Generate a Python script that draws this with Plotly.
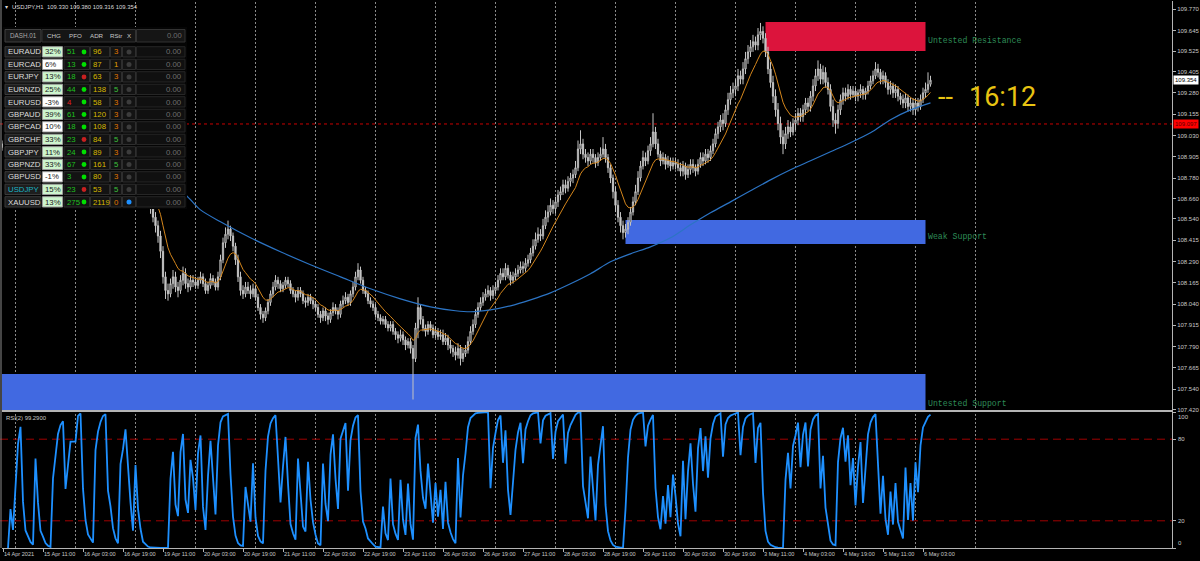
import numpy as np
import pandas as pd
import plotly.graph_objects as go

W, H = 1200, 561

# ---------------- DATA ----------------
chart_title = "USDJPY,H1  109.330 109.380 109.316 109.354"
trading_days = ["2021-04-14", "2021-04-15", "2021-04-16", "2021-04-19", "2021-04-20",
                "2021-04-21", "2021-04-22", "2021-04-23", "2021-04-26", "2021-04-27",
                "2021-04-28", "2021-04-29", "2021-04-30", "2021-05-03", "2021-05-04",
                "2021-05-05", "2021-05-06"]
first_bar_hour = 19
last_bar_hour = 6

open_first = 108.96
close_px = [
    108.98, 108.95, 108.93, 108.94, 108.92,
    108.93, 108.95, 108.97, 108.94, 108.90, 108.88, 108.86, 108.84, 108.88, 108.85, 108.80, 108.78,
    108.74, 108.70, 108.66, 108.70, 108.72, 108.75, 108.77, 108.78, 108.76, 108.77, 108.78, 108.78,
    108.78, 108.80, 108.82, 108.80, 108.78, 108.76, 108.75, 108.74, 108.77, 108.79, 108.81, 108.84,
    108.86, 108.83, 108.82, 108.80, 108.78, 108.76, 108.79, 108.80, 108.82, 108.81, 108.80, 108.78,
    108.80, 108.78, 108.76, 108.72, 108.70, 108.66, 108.60, 108.55, 108.50, 108.44, 108.35, 108.20,
    108.12, 108.10, 108.16, 108.20, 108.14, 108.12, 108.18, 108.22, 108.16, 108.14, 108.18, 108.17,
    108.15, 108.18, 108.20, 108.16, 108.12, 108.15, 108.19, 108.17, 108.14, 108.20, 108.30, 108.40,
    108.45, 108.48, 108.44, 108.38, 108.30, 108.20, 108.12, 108.10, 108.14, 108.12, 108.10, 108.13,
    108.08, 108.02, 107.98, 107.96, 108.00, 108.05, 108.10, 108.14, 108.18, 108.16, 108.13, 108.15,
    108.18, 108.16, 108.12, 108.10, 108.08, 108.12, 108.10, 108.06, 108.05, 108.08, 108.06, 108.04,
    108.02, 107.98, 107.96, 108.00, 107.97, 107.95, 107.99, 108.02, 108.00, 107.98, 108.04, 108.06,
    108.08, 108.05, 108.10, 108.14, 108.20, 108.24, 108.18, 108.12, 108.10, 108.06, 108.04, 108.02,
    107.98, 107.96, 107.94, 107.95, 107.92, 107.90, 107.92, 107.88, 107.86, 107.84, 107.86, 107.83,
    107.80, 107.82, 107.78, 107.72, 107.90, 108.02, 107.95, 107.90, 107.88, 107.92, 107.90, 107.86,
    107.88, 107.85, 107.86, 107.82, 107.84, 107.80, 107.78, 107.76, 107.74, 107.78, 107.72, 107.75,
    107.77, 107.82, 107.88, 107.92, 107.98, 108.02, 108.05, 108.08, 108.10, 108.12, 108.09, 108.12,
    108.14, 108.18, 108.22, 108.20, 108.25, 108.21, 108.18, 108.20, 108.22, 108.24, 108.26, 108.25,
    108.28, 108.30, 108.34, 108.38, 108.42, 108.45, 108.44, 108.50, 108.55, 108.58, 108.62, 108.60,
    108.64, 108.68, 108.70, 108.74, 108.72, 108.76, 108.78, 108.80, 108.84, 108.95, 108.98, 108.92,
    108.90, 108.88, 108.92, 108.90, 108.87, 108.90, 108.92, 108.95, 108.90, 108.84, 108.78, 108.70,
    108.62, 108.55, 108.50, 108.46, 108.48, 108.52, 108.58, 108.64, 108.70, 108.78, 108.85, 108.90,
    108.88, 108.94, 108.98, 109.05, 108.98, 108.92, 108.88, 108.90, 108.86, 108.88, 108.85, 108.87,
    108.86, 108.84, 108.82, 108.85, 108.80, 108.83, 108.86, 108.84, 108.82, 108.86, 108.90, 108.88,
    108.92, 108.90, 108.94, 108.98, 109.04, 109.08, 109.12, 109.10, 109.18, 109.24, 109.28, 109.30,
    109.32, 109.38, 109.36, 109.42, 109.48, 109.52, 109.55, 109.58, 109.56, 109.62, 109.64, 109.60,
    109.52, 109.42, 109.34, 109.26, 109.18, 109.10, 109.02, 108.98, 109.04, 109.08, 109.05, 109.10,
    109.12, 109.16, 109.14, 109.18, 109.22, 109.20, 109.26, 109.32, 109.38, 109.42, 109.36, 109.40,
    109.34, 109.30, 109.20, 109.12, 109.10, 109.18, 109.24, 109.28, 109.26, 109.30, 109.27, 109.29,
    109.26, 109.28, 109.30, 109.27, 109.29, 109.32, 109.35, 109.38, 109.42, 109.40, 109.36, 109.38,
    109.34, 109.30, 109.32, 109.28, 109.30, 109.26, 109.24, 109.22, 109.25, 109.20, 109.22, 109.18,
    109.22, 109.20, 109.24, 109.28, 109.30, 109.33, 109.354,
]
high_px = [
    109.00, 108.99, 108.96, 108.96, 108.95,
    108.95, 108.97, 108.99, 108.99, 108.96, 108.93, 108.90, 108.88, 108.91, 108.90, 108.87, 108.82,
    108.80, 108.76, 108.72, 108.73, 108.75, 108.78, 108.80, 108.81, 108.80, 108.79, 108.80, 108.80,
    108.80, 108.82, 108.84, 108.84, 108.82, 108.80, 108.78, 108.77, 108.79, 108.82, 108.84, 108.87,
    108.89, 108.88, 108.85, 108.84, 108.82, 108.80, 108.81, 108.82, 108.84, 108.84, 108.83, 108.82,
    108.82, 108.83, 108.80, 108.78, 108.75, 108.72, 108.68, 108.63, 108.58, 108.53, 108.47, 108.38,
    108.23, 108.16, 108.19, 108.24, 108.23, 108.17, 108.21, 108.26, 108.25, 108.19, 108.21, 108.21,
    108.20, 108.20, 108.23, 108.22, 108.19, 108.17, 108.22, 108.21, 108.19, 108.23, 108.33, 108.43,
    108.49, 108.53, 108.50, 108.46, 108.40, 108.33, 108.23, 108.15, 108.17, 108.17, 108.15, 108.16,
    108.15, 108.10, 108.04, 108.00, 108.02, 108.07, 108.12, 108.17, 108.21, 108.20, 108.18, 108.17,
    108.20, 108.20, 108.18, 108.14, 108.12, 108.14, 108.14, 108.12, 108.08, 108.10, 108.10, 108.08,
    108.06, 108.04, 108.00, 108.02, 108.02, 107.99, 108.01, 108.05, 108.04, 108.02, 108.06, 108.09,
    108.11, 108.10, 108.12, 108.17, 108.23, 108.28, 108.26, 108.20, 108.14, 108.12, 108.08, 108.06,
    108.04, 108.00, 107.98, 107.97, 107.97, 107.94, 107.94, 107.94, 107.90, 107.88, 107.89, 107.88,
    107.85, 107.84, 107.84, 107.80, 107.93, 108.08, 108.04, 107.97, 107.92, 107.94, 107.94, 107.92,
    107.91, 107.90, 107.89, 107.89, 107.87, 107.86, 107.83, 107.80, 107.79, 107.81, 107.80, 107.78,
    107.80, 107.85, 107.91, 107.95, 108.01, 108.05, 108.08, 108.11, 108.13, 108.15, 108.14, 108.15,
    108.17, 108.21, 108.25, 108.25, 108.28, 108.27, 108.23, 108.23, 108.25, 108.27, 108.29, 108.29,
    108.31, 108.33, 108.37, 108.42, 108.46, 108.49, 108.48, 108.54, 108.59, 108.62, 108.66, 108.65,
    108.67, 108.71, 108.73, 108.77, 108.77, 108.79, 108.81, 108.83, 108.88, 109.00, 109.06, 109.01,
    108.95, 108.93, 108.95, 108.95, 108.92, 108.93, 108.96, 109.02, 108.98, 108.92, 108.86, 108.80,
    108.73, 108.65, 108.58, 108.53, 108.51, 108.55, 108.61, 108.67, 108.74, 108.82, 108.88, 108.94,
    108.93, 108.97, 109.02, 109.16, 109.08, 109.01, 108.94, 108.93, 108.92, 108.91, 108.90, 108.90,
    108.90, 108.89, 108.87, 108.88, 108.87, 108.86, 108.89, 108.89, 108.86, 108.89, 108.93, 108.93,
    108.95, 108.95, 108.97, 109.01, 109.07, 109.11, 109.15, 109.16, 109.21, 109.28, 109.32, 109.34,
    109.36, 109.42, 109.41, 109.46, 109.52, 109.56, 109.59, 109.62, 109.61, 109.66, 109.69, 109.67,
    109.63, 109.55, 109.46, 109.38, 109.30, 109.22, 109.14, 109.06, 109.08, 109.12, 109.11, 109.13,
    109.16, 109.19, 109.19, 109.21, 109.25, 109.25, 109.29, 109.36, 109.42, 109.47, 109.45, 109.44,
    109.43, 109.37, 109.33, 109.24, 109.16, 109.21, 109.27, 109.31, 109.31, 109.33, 109.32, 109.32,
    109.31, 109.30, 109.33, 109.32, 109.31, 109.35, 109.38, 109.41, 109.46, 109.45, 109.42, 109.41,
    109.40, 109.36, 109.35, 109.34, 109.33, 109.32, 109.28, 109.27, 109.28, 109.27, 109.25, 109.25,
    109.25, 109.25, 109.27, 109.31, 109.34, 109.40, 109.38,
]
low_px = [
    108.94, 108.93, 108.91, 108.91, 108.90,
    108.90, 108.91, 108.93, 108.92, 108.88, 108.86, 108.84, 108.82, 108.82, 108.83, 108.78, 108.76,
    108.72, 108.68, 108.63, 108.64, 108.68, 108.70, 108.73, 108.75, 108.74, 108.74, 108.75, 108.76,
    108.76, 108.77, 108.79, 108.78, 108.76, 108.74, 108.73, 108.71, 108.72, 108.75, 108.77, 108.79,
    108.82, 108.81, 108.80, 108.78, 108.76, 108.74, 108.74, 108.77, 108.78, 108.79, 108.78, 108.76,
    108.76, 108.76, 108.74, 108.70, 108.68, 108.63, 108.57, 108.52, 108.46, 108.40, 108.31, 108.16,
    108.07, 108.06, 108.08, 108.13, 108.11, 108.08, 108.10, 108.15, 108.13, 108.11, 108.12, 108.14,
    108.13, 108.13, 108.16, 108.14, 108.10, 108.10, 108.13, 108.15, 108.12, 108.12, 108.18, 108.28,
    108.37, 108.42, 108.41, 108.35, 108.27, 108.17, 108.09, 108.07, 108.08, 108.10, 108.07, 108.08,
    108.06, 108.00, 107.95, 107.93, 107.94, 107.98, 108.03, 108.08, 108.12, 108.13, 108.11, 108.11,
    108.13, 108.14, 108.10, 108.08, 108.05, 108.06, 108.08, 108.04, 108.02, 108.03, 108.04, 108.01,
    108.00, 107.96, 107.93, 107.94, 107.94, 107.92, 107.93, 107.97, 107.98, 107.95, 107.96, 108.02,
    108.04, 108.03, 108.03, 108.08, 108.12, 108.18, 108.16, 108.10, 108.08, 108.04, 108.02, 108.00,
    107.96, 107.94, 107.92, 107.92, 107.90, 107.88, 107.88, 107.86, 107.83, 107.81, 107.82, 107.80,
    107.77, 107.78, 107.75, 107.48, 107.70, 107.84, 107.92, 107.88, 107.85, 107.86, 107.88, 107.84,
    107.84, 107.83, 107.83, 107.80, 107.80, 107.77, 107.75, 107.73, 107.71, 107.72, 107.68, 107.70,
    107.73, 107.75, 107.80, 107.86, 107.90, 107.96, 108.00, 108.03, 108.06, 108.08, 108.06, 108.07,
    108.10, 108.12, 108.16, 108.18, 108.18, 108.19, 108.15, 108.16, 108.18, 108.20, 108.22, 108.22,
    108.23, 108.26, 108.28, 108.32, 108.36, 108.40, 108.41, 108.42, 108.48, 108.52, 108.56, 108.57,
    108.57, 108.61, 108.65, 108.68, 108.69, 108.70, 108.73, 108.75, 108.78, 108.82, 108.92, 108.89,
    108.87, 108.85, 108.86, 108.87, 108.84, 108.85, 108.88, 108.90, 108.87, 108.81, 108.75, 108.66,
    108.58, 108.52, 108.46, 108.42, 108.43, 108.45, 108.50, 108.56, 108.62, 108.68, 108.76, 108.83,
    108.85, 108.86, 108.91, 108.96, 108.95, 108.90, 108.85, 108.86, 108.83, 108.84, 108.82, 108.83,
    108.83, 108.82, 108.79, 108.79, 108.77, 108.78, 108.80, 108.81, 108.79, 108.80, 108.84, 108.85,
    108.86, 108.87, 108.88, 108.92, 108.96, 109.01, 109.05, 109.06, 109.08, 109.15, 109.21, 109.25,
    109.26, 109.29, 109.33, 109.33, 109.39, 109.45, 109.49, 109.52, 109.53, 109.53, 109.59, 109.57,
    109.49, 109.39, 109.31, 109.22, 109.14, 109.06, 108.98, 108.92, 108.95, 109.01, 109.02, 109.03,
    109.06, 109.09, 109.11, 109.11, 109.15, 109.17, 109.17, 109.23, 109.29, 109.35, 109.33, 109.33,
    109.31, 109.27, 109.17, 109.08, 109.04, 109.07, 109.15, 109.21, 109.23, 109.24, 109.24, 109.25,
    109.23, 109.23, 109.25, 109.24, 109.24, 109.27, 109.30, 109.33, 109.36, 109.37, 109.33, 109.33,
    109.31, 109.27, 109.27, 109.25, 109.25, 109.23, 109.21, 109.19, 109.19, 109.17, 109.17, 109.15,
    109.15, 109.17, 109.18, 109.22, 109.25, 109.28, 109.316,
]

fast_ma_period = 10
# slow (blue) moving average: bar index -> price
slow_ma_bar = [0, 30, 55, 73, 79, 87, 99, 111, 123, 135, 147, 159, 171, 181, 187, 195, 203, 211,
               219, 227, 235, 243, 251, 259, 267, 275, 283, 291, 299, 307, 315, 323, 331, 339,
               347, 355, 363, 371]
slow_ma_px = [109.30, 109.02, 108.84, 108.68, 108.593, 108.523, 108.429, 108.347, 108.271, 108.200,
              108.130, 108.071, 108.024, 108.001, 107.995, 108.006, 108.030, 108.065, 108.106,
              108.159, 108.218, 108.288, 108.335, 108.376, 108.429, 108.505, 108.576, 108.640,
              108.705, 108.769, 108.828, 108.881, 108.934, 108.987, 109.045, 109.122, 109.180,
              109.221]

rsi_period = 2
rsi_title = "RSI(2) 99.2900"
rsi_levels = [20, 80]

price_ticks = [109.770, 109.645, 109.525, 109.405, 109.280, 109.155, 109.030, 108.905, 108.780,
               108.660, 108.540, 108.415, 108.290, 108.165, 108.040, 107.915, 107.790, 107.665,
               107.540, 107.420]
bid_price = 109.354
red_line_price = 109.097

zone_names = ["Untested Resistance", "Weak Support", "Untested Support"]
zone_bar0 = [305, 249, -3]
zone_bar1 = [369, 369, 369]
zone_lo = [109.525, 108.392, 107.30]
zone_hi = [109.695, 108.533, 107.630]
zone_label_px = [109.584, 108.435, 107.457]
zone_colors = ["#dc143c", "#4169e1", "#4169e1"]

timer_text = "16:12"

dash_symbols = ["EURAUD", "EURCAD", "EURJPY", "EURNZD", "EURUSD", "GBPAUD", "GBPCAD",
                "GBPCHF", "GBPJPY", "GBPNZD", "GBPUSD", "USDJPY", "XAUUSD"]
dash_chg = [32, 6, 13, 25, -3, 39, 10, 33, 11, 33, -1, 15, 13]
dash_pfo = [51, 13, 18, 44, 4, 61, 18, 23, 24, 67, 3, 23, 275]
dash_pfo_up = [True, True, True, True, False, True, True, True, True, True, True, True, True]
dash_dot_up = [True, True, False, True, True, True, True, False, True, True, True, False, True]
dash_adr = [96, 87, 63, 138, 58, 120, 108, 84, 89, 161, 80, 53, 2119]
dash_rstr = [3, 1, 3, 5, 3, 3, 3, 5, 3, 5, 3, 5, 0]
dash_last = ["0.00"] * 13
dash_signal = [False] * 12 + [True]

# ---------------- DERIVED ----------------
times = []
for k, d in enumerate(trading_days):
    h0 = first_bar_hour if k == 0 else 0
    h1 = last_bar_hour if k == len(trading_days) - 1 else 23
    for hh in range(h0, h1 + 1):
        times.append(pd.Timestamp(d) + pd.Timedelta(hours=hh))
n = len(times)
idx = np.arange(n)
open_px = [open_first] + close_px[:-1]
high_adj = [max(h, o, c) for h, o, c in zip(high_px, open_px, close_px)]
low_adj = [min(l, o, c) for l, o, c in zip(low_px, open_px, close_px)]

# fast EMA
a = 2.0 / (fast_ma_period + 1)
ema = []
e = close_px[0]
for c in close_px:
    e = e + a * (c - e)
    ema.append(e)

# Wilder RSI
c = np.array(close_px)
d = np.diff(c)
up = np.where(d > 0, d, 0.0)
dn = np.where(d < 0, -d, 0.0)
rsi = np.full(n, np.nan)
au, ad = up[:rsi_period].mean(), dn[:rsi_period].mean()
rsi[rsi_period] = 100.0 if ad == 0 else 100 - 100 / (1 + au / ad)
for k in range(rsi_period, len(d)):
    au = (au * (rsi_period - 1) + up[k]) / rsi_period
    ad = (ad * (rsi_period - 1) + dn[k]) / rsi_period
    rsi[k + 1] = 100.0 if ad == 0 else 100 - 100 / (1 + au / ad)

day_bounds = [i for i, t in enumerate(times) if t.hour == 0]
day_bounds.append(day_bounds[-1] + 24)   # the next (future) day separator
x_lo, x_hi = -0.4, 467.6
label_idx = list(range(0, n, 16))
label_txt = [times[0].strftime("%d %b %Y").lstrip("0")] + \
            [f"{times[i].day} {times[i].strftime('%b %H:%M')}" for i in label_idx[1:]]

# ---------------- FIGURE ----------------
FONT = "Liberation Sans, Arial, sans-serif"
AX = "#b4b4b4"
TXT = "#c8c8c8"

# pixel geometry
PX_L, PX_R = 2, 1172
PRICE_TOP, PRICE_BOT = 1, 410
RSI_TOP, RSI_BOT = 412, 548
px_per_unit = 170.4
p_top = 109.77 + (9.3 - PRICE_TOP) / px_per_unit
p_bot = 109.77 - (PRICE_BOT - 9.3) / px_per_unit

fig = go.Figure()
fig.add_trace(go.Candlestick(
    x=idx, open=open_px, high=high_adj, low=low_adj, close=close_px,
    increasing=dict(line=dict(color="#c4c4c4", width=1), fillcolor="#000000"),
    decreasing=dict(line=dict(color="#c4c4c4", width=1), fillcolor="#c4c4c4"),
    whiskerwidth=0, xaxis="x", yaxis="y", hoverinfo="skip", showlegend=False))
fig.add_trace(go.Scatter(x=idx, y=ema, mode="lines", line=dict(color="#d4861c", width=1),
                         xaxis="x", yaxis="y", hoverinfo="skip", showlegend=False))
fig.add_trace(go.Scatter(x=slow_ma_bar, y=slow_ma_px, mode="lines",
                         line=dict(color="#2c74c4", width=1.2, shape="spline", smoothing=0.8),
                         xaxis="x", yaxis="y", hoverinfo="skip", showlegend=False))
fig.add_trace(go.Scatter(x=idx, y=rsi, mode="lines", line=dict(color="#1e90ff", width=1.8),
                         xaxis="x2", yaxis="y2", hoverinfo="skip", showlegend=False))

shapes = []
# zones (background)
for x0, x1, lo, hi, col in zip(zone_bar0, zone_bar1, zone_lo, zone_hi, zone_colors):
    shapes.append(dict(type="rect", xref="x", yref="y", x0=x0, x1=x1, y0=max(lo, p_bot), y1=hi,
                       fillcolor=col, line=dict(width=0), layer="below"))
# vertical dotted day grid
for bnd in day_bounds:
    shapes.append(dict(type="line", xref="x", yref="paper", x0=bnd, x1=bnd,
                       y0=1 - RSI_BOT / H, y1=1 - PRICE_TOP / H,
                       line=dict(color="#8a8a8a", width=1, dash="2px,2px"), layer="below"))
# red dashed level
shapes.append(dict(type="line", xref="paper", yref="y", x0=0, x1=PX_R / W,
                   y0=red_line_price, y1=red_line_price,
                   line=dict(color="#c80000", width=1, dash="3px,3px"), layer="below"))
# RSI levels
for lv in rsi_levels:
    shapes.append(dict(type="line", xref="paper", yref="y2", x0=0, x1=PX_R / W, y0=lv, y1=lv,
                       line=dict(color="#a00000", width=1, dash="8px,5px"), layer="below"))
# left border
shapes.append(dict(type="line", xref="paper", yref="paper", x0=1 / W, x1=1 / W,
                   y0=1 - RSI_BOT / H, y1=1, line=dict(color="#8a8a8a", width=1), layer="above"))

annotations = []


def ptext(x, y, text, size, color, xanchor="left", family=FONT, bg=None):
    d = dict(x=x / W, y=1 - y / H, xref="paper", yref="paper", text=text, showarrow=False,
             xanchor=xanchor, yanchor="middle", borderpad=0,
             font=dict(size=size, color=color, family=family))
    if bg:
        d["bgcolor"] = bg
    annotations.append(d)


def prect(x0, y0, x1, y1, fill, line=None):
    shapes.append(dict(type="rect", xref="paper", yref="paper", x0=x0 / W, x1=x1 / W,
                       y0=1 - y1 / H, y1=1 - y0 / H, fillcolor=fill,
                       line=dict(color=line if line else fill, width=1 if line else 0),
                       layer="above"))


def pcircle(cx, cy, r, fill):
    shapes.append(dict(type="circle", xref="paper", yref="paper", x0=(cx - r) / W, x1=(cx + r) / W,
                       y0=1 - (cy + r) / H, y1=1 - (cy - r) / H, fillcolor=fill,
                       line=dict(width=0), layer="above"))


# zone labels
for name, x1, ly in zip(zone_names, zone_bar1, zone_label_px):
    annotations.append(dict(x=x1, y=ly, xref="x", yref="y", text=name, showarrow=False,
                            xanchor="left", yanchor="middle", xshift=1, borderpad=0,
                            font=dict(size=8.2, color="#2e8b57",
                                      family="Liberation Mono, Courier New, monospace")))

# candle timer
ptext(937, 97, "--", 27, "#e8c412", family="Liberation Sans Narrow, Roboto, sans-serif")
ptext(968, 97, timer_text, 27, "#e8c412", family="Liberation Sans Narrow, Roboto, sans-serif")

# header
ptext(4, 7, "▾", 6, "#d8d8d8")
ptext(11, 7, chart_title, 5.9, "#d8d8d8")

# price labels at right
annotations.append(dict(x=(PX_R + 1) / W, y=bid_price, xref="paper", yref="y", text="109.354",
                        showarrow=False, xanchor="left", yanchor="middle", bgcolor="#ffffff",
                        borderpad=1, font=dict(size=6, color="#000000", family=FONT)))
annotations.append(dict(x=(PX_R + 1) / W, y=red_line_price, xref="paper", yref="y", text="109.097",
                        showarrow=False, xanchor="left", yanchor="middle", bgcolor="#ff0000",
                        borderpad=1, font=dict(size=6, color="#5a0000", family=FONT)))

# RSI labels
for v, sh in zip([100, 80, 20, 0], [-5, 0, 0, 5]):
    annotations.append(dict(x=(PX_R + 4) / W, y=v, xref="paper", yref="y2", text=str(v),
                            showarrow=False, xanchor="left", yanchor="middle", yshift=sh,
                            font=dict(size=6, color=TXT, family=FONT)))
ptext(5, 418, rsi_title, 5.9, "#c8c8c8")

# ---- dashboard ----
prect(3, 27, 187, 209, "#050505")
prect(5, 29.5, 41, 42, "#1b1b1b", "#404040")
prect(42, 29.5, 135.5, 42, "#151515", "#323232")
prect(136.5, 29.5, 185, 42, "#151515", "#323232")
ptext(23, 35.8, "DASH.01", 6.3, "#a8a8a8", xanchor="center")
for hx, ht in zip([54, 75, 97, 116.5, 129], ["CHG", "PFO", "ADR", "RStr", "X"]):
    ptext(hx, 35.8, ht, 6.2, "#c8c8c8", xanchor="center")
ptext(183, 35.8, "0.00", 7.6, "#6e6e6e", xanchor="right")

for k, sym in enumerate(dash_symbols):
    t = 46.7 + 12.5 * k
    bt = t + 10.3
    cy = t + 5.3
    prect(5, t, 41, bt, "#1e1e1e", "#3a3a3a")
    chg = dash_chg[k]
    prect(42.5, t, 62.5, bt, "#cdf5cd" if chg >= 11 else "#ffffff", "#9a9a9a")
    prect(64, t, 89.5, bt, "#131313", "#2e2e2e")
    prect(90.5, t, 109.5, bt, "#131313", "#2e2e2e")
    prect(110.5, t, 121.5, bt, "#131313", "#2e2e2e")
    prect(122.5, t, 135.5, bt, "#131313", "#2e2e2e")
    prect(136.5, t, 185, bt, "#101010", "#262626")
    ptext(7, cy, sym, 7.8, "#1ab3c4" if sym == "USDJPY" else "#dcdcdc")
    ptext(44, cy, f"{chg}%", 7.8, "#202020")
    ptext(66, cy, str(dash_pfo[k]), 7.8, "#1fbf1f" if dash_pfo_up[k] else "#e02020")
    pcircle(84, cy, 2.4, "#00e000" if dash_dot_up[k] else "#c82020")
    ptext(92, cy, str(dash_adr[k]), 7.8, "#d6b800")
    r = dash_rstr[k]
    rcol = "#3cc03c" if r == 5 else ("#e0a000" if r == 1 else "#e07800")
    ptext(113, cy, str(r), 7.8, rcol)
    pcircle(129, cy, 2.5, "#1e90ff" if dash_signal[k] else "#3c3c3c")
    ptext(183, cy, dash_last[k], 7.8, "#6e6e6e", xanchor="right")

fig.update_layout(
    width=W, height=H,
    margin=dict(l=0, r=0, t=0, b=0, pad=0, autoexpand=False),
    paper_bgcolor="#000000", plot_bgcolor="#000000",
    showlegend=False, hovermode=False,
    shapes=shapes, annotations=annotations,
    xaxis=dict(domain=[PX_L / W, PX_R / W], range=[x_lo, x_hi], anchor="y",
               showgrid=False, zeroline=False, showticklabels=False, ticks="",
               showline=True, linecolor=AX, linewidth=2, fixedrange=True,
               rangeslider=dict(visible=False)),
    yaxis=dict(domain=[1 - PRICE_BOT / H, 1 - PRICE_TOP / H], range=[p_bot, p_top], anchor="x",
               side="right", tickmode="array", tickvals=price_ticks,
               ticktext=[f"{v:.3f}" for v in price_ticks], ticks="outside", ticklen=3,
               tickcolor=AX, showline=True, linecolor=AX, linewidth=1, showgrid=False,
               zeroline=False, tickfont=dict(size=6, color=TXT, family=FONT), fixedrange=True),
    xaxis2=dict(domain=[PX_L / W, PX_R / W], range=[x_lo, x_hi], anchor="y2",
                tickmode="array", tickvals=label_idx, ticktext=label_txt, ticks="outside",
                ticklen=3, tickcolor=AX, ticklabelposition="outside right", tickangle=0,
                showline=True, linecolor=AX, linewidth=1, showgrid=False, zeroline=False,
                tickfont=dict(size=5.6, color=TXT, family=FONT), fixedrange=True),
    yaxis2=dict(domain=[1 - RSI_BOT / H, 1 - RSI_TOP / H], range=[0, 100], anchor="x2",
                side="right", tickmode="array", tickvals=[0, 20, 80, 100], ticks="outside",
                ticklen=3, tickcolor=AX, showticklabels=False, showline=True, linecolor=AX,
                linewidth=1, showgrid=False, zeroline=False, fixedrange=True),
)

fig.write_html("out.html", config={"displayModeBar": False},
               post_script="document.body.style.margin='0';document.body.style.overflow='hidden';")
